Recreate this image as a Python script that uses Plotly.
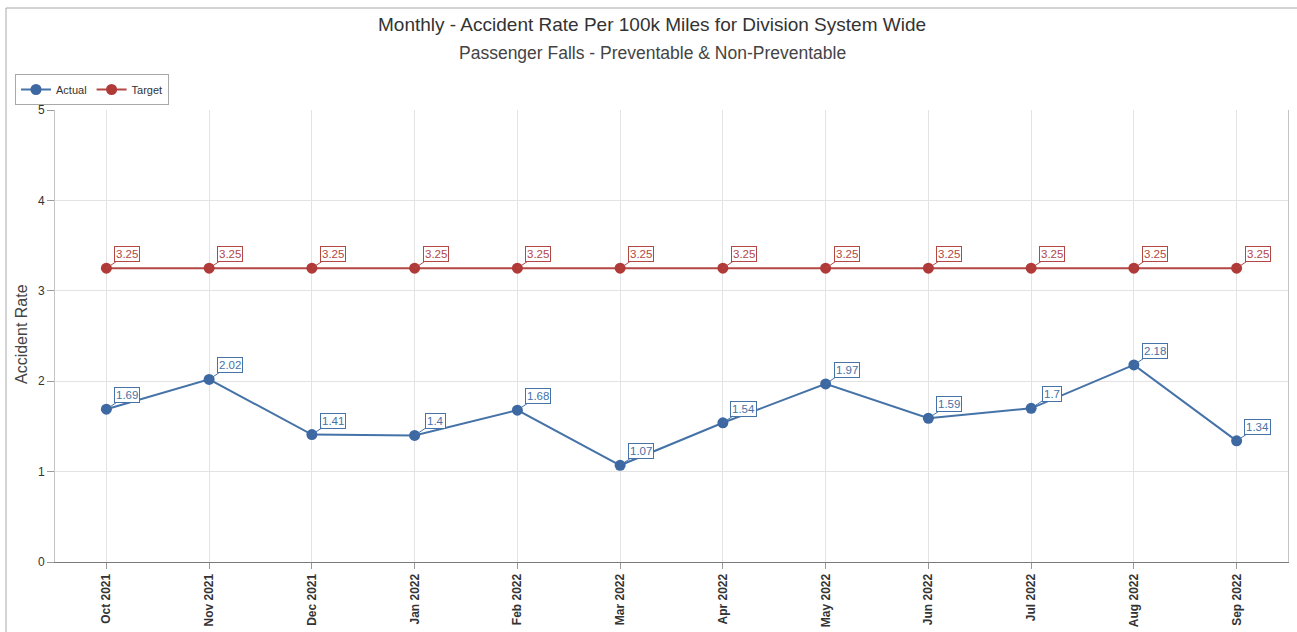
import plotly.graph_objects as go

months = ["Oct 2021", "Nov 2021", "Dec 2021", "Jan 2022", "Feb 2022", "Mar 2022",
          "Apr 2022", "May 2022", "Jun 2022", "Jul 2022", "Aug 2022", "Sep 2022"]
actual = [1.69, 2.02, 1.41, 1.4, 1.68, 1.07, 1.54, 1.97, 1.59, 1.7, 2.18, 1.34]
target = [3.25, 3.25, 3.25, 3.25, 3.25, 3.25, 3.25, 3.25, 3.25, 3.25, 3.25, 3.25]
y_ticks = [0, 1, 2, 3, 4, 5]

BLUE = "#4572A7"
BLUE_M = "#3D68A2"
RED = "#B24744"
RED_M = "#B03A38"
FONT = "Liberation Sans, Arial, sans-serif"

W, H = 1297, 632
L, R, T, B = 55, 9, 110, 70
pw, ph = W - L - R, H - T - B


def px_x(p):
    return (p - L) / pw


def px_y(p):
    return (H - B - p) / ph


fig = go.Figure()
fig.add_trace(go.Scatter(
    x=months, y=actual, name="Actual", mode="lines+markers",
    line=dict(color=BLUE, width=2),
    marker=dict(color=BLUE_M, size=11),
))
fig.add_trace(go.Scatter(
    x=months, y=target, name="Target", mode="lines+markers",
    line=dict(color=RED, width=2),
    marker=dict(color=RED_M, size=11),
))

annotations = []
for series, color in ((actual, BLUE), (target, RED)):
    for m, v in zip(months, series):
        annotations.append(dict(
            x=m, y=v, xref="x", yref="y", text=f"{v:g}",
            showarrow=True, ax=21, ay=-14, arrowhead=0, arrowwidth=1,
            arrowcolor=color, standoff=0,
            font=dict(family=FONT, size=11.5, color=color),
            bgcolor="white", bordercolor=color, borderwidth=1, borderpad=1,
        ))

annotations.append(dict(
    x=px_x(652), y=px_y(24), xref="paper", yref="paper", showarrow=False,
    text="Monthly - Accident Rate Per 100k Miles for Division System Wide",
    font=dict(family=FONT, size=19, color="#333333"),
    xanchor="center", yanchor="middle",
))
annotations.append(dict(
    x=px_x(652), y=px_y(53), xref="paper", yref="paper", showarrow=False,
    text="Passenger Falls - Preventable & Non-Preventable",
    font=dict(family=FONT, size=17.5, color="#444444"),
    xanchor="center", yanchor="middle",
))
annotations.append(dict(
    x=px_x(21), y=px_y(334), xref="paper", yref="paper", showarrow=False,
    text="Accident Rate", textangle=-90,
    font=dict(family=FONT, size=16, color="#444444"),
    xanchor="center", yanchor="middle",
))

shapes = [dict(
    type="rect", xref="paper", yref="paper",
    x0=px_x(6), x1=px_x(1310), y0=px_y(640), y1=px_y(8),
    line=dict(color="#A8A8A8", width=1), layer="below",
)]

fig.update_layout(
    width=W, height=H,
    margin=dict(l=L, r=R, t=T, b=B, autoexpand=False),
    paper_bgcolor="white", plot_bgcolor="white",
    font=dict(family=FONT, size=11, color="#333333"),
    showlegend=True,
    legend=dict(
        orientation="h", x=px_x(15), y=px_y(74), xanchor="left", yanchor="top",
        bordercolor="#A8A8A8", borderwidth=1, bgcolor="white",
        font=dict(family=FONT, size=11, color="#333333"),
        itemwidth=30, tracegroupgap=0,
    ),
    annotations=annotations,
    shapes=shapes,
    xaxis=dict(
        type="category", range=[-0.5, len(months) - 0.5], automargin=False,
        showgrid=True, gridcolor="#E3E3E3", gridwidth=1,
        showline=True, linecolor="#7A7A7A", linewidth=1,
        ticks="outside", ticklen=6, tickcolor="#9A9A9A",
        tickangle=-90, tickfont=dict(family=FONT, size=12, color="#333333", weight="bold"),
        zeroline=False,
    ),
    yaxis=dict(
        range=[0, 5], tickvals=y_ticks, automargin=False,
        showgrid=True, gridcolor="#E3E3E3", gridwidth=1,
        showline=True, linecolor="#C4C4C4", linewidth=1, mirror=True,
        ticks="outside", ticklen=7, tickcolor="#9A9A9A",
        tickfont=dict(family=FONT, size=12, color="#333333"),
        zeroline=False,
    ),
)

fig.write_html(
    "out.html",
    config={"displayModeBar": False},
    post_script="document.body.style.margin='0px';document.body.style.overflow='hidden';",
)
